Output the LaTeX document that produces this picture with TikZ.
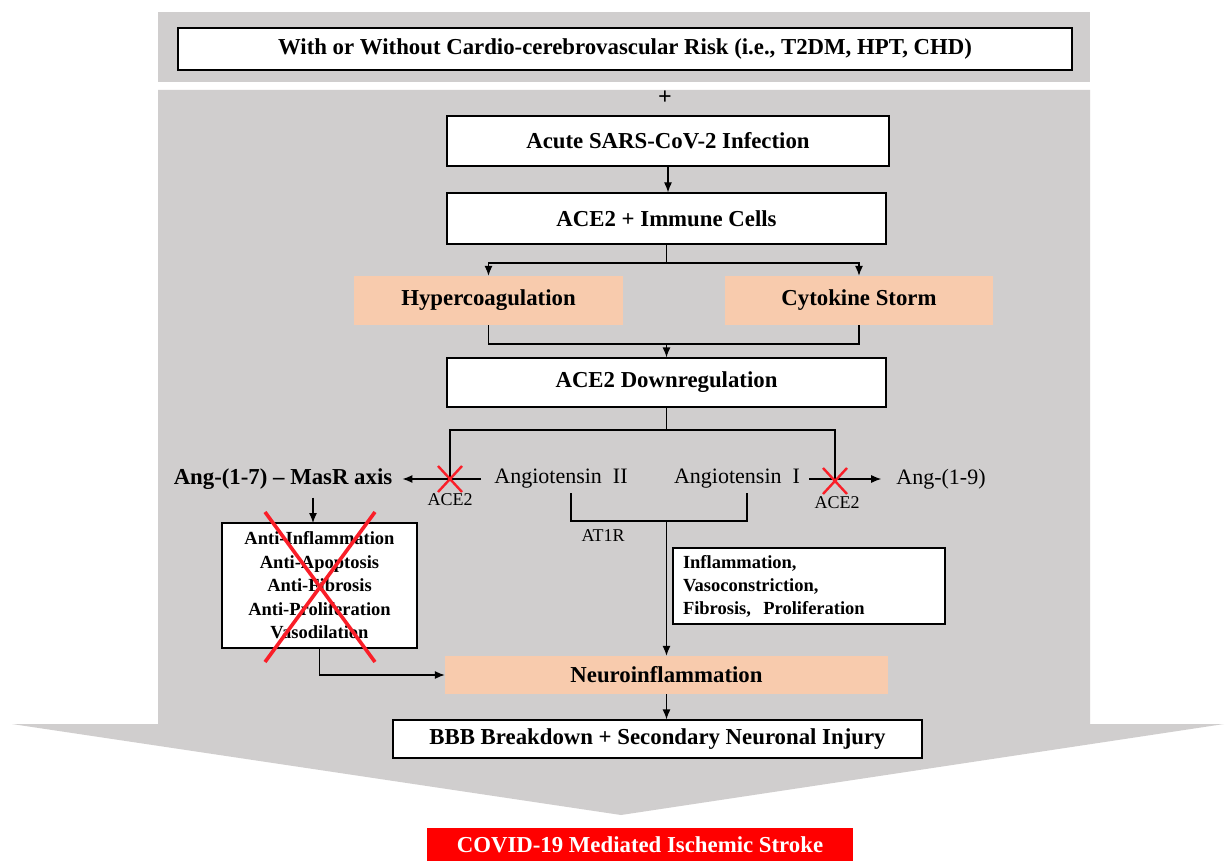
\documentclass[tikz,border=0pt]{standalone}
\usepackage{fontspec}
\setmainfont{Liberation Serif}
\usetikzlibrary{arrows.meta,calc}
\definecolor{bggray}{RGB}{208,206,206}
\definecolor{peach}{RGB}{248,203,173}
\definecolor{xred}{RGB}{250,30,40}
\begin{document}
\begin{tikzpicture}[x=1pt,y=-1pt,
  big/.style={font=\bfseries\fontsize{22.8}{26}\selectfont},
  wbox/.style={draw=black,fill=white,line width=1.2pt,inner sep=0pt,big},
  pbox/.style={fill=peach,inner sep=0pt,big},
  ln/.style={line width=1.2pt,draw=black},
  arr/.style={ln,-{Latex[length=10pt,width=8pt]}},
  plain/.style={font=\fontsize{22}{26}\selectfont,inner sep=2pt},
  small/.style={font=\fontsize{18}{22}\selectfont,inner sep=0pt},
  cross/.style={draw=xred,line width=2.4pt},
  bigcross/.style={draw=xred,line width=3.6pt}]
\useasboundingbox (0,0) rectangle (1226,861);
\fill[white] (0,0) rectangle (1226,861);
% background shapes
\fill[bggray] (158,12) rectangle (1090,82);
\fill[bggray] (158,90) -- (1090,90) -- (1090,724) -- (1224,724) -- (621,815) -- (12,724) -- (158,724) -- cycle;
% nodes
\node[wbox,minimum width=894pt,minimum height=42pt] (risk) at (625,49) {With or Without Cardio-cerebrovascular Risk (i.e., T2DM, HPT, CHD)};
\node[font=\bfseries\fontsize{24}{24}\selectfont,inner sep=0pt] (plus) at (665,98) {+};
\node[wbox,minimum width=442pt,minimum height=50pt] (acute) at (668,141) {Acute SARS-CoV-2 Infection};
\node[wbox,minimum width=439pt,minimum height=51pt] (immune) at (666.5,218.5) {ACE2 + Immune Cells};
\node[pbox,minimum width=269pt,minimum height=49pt] (hyper) at (488.5,300.5) {Hypercoagulation};
\node[pbox,minimum width=268pt,minimum height=49pt] (cyto) at (859,300.5) {Cytokine Storm};
\node[wbox,minimum width=439pt,minimum height=49pt] (down) at (666.5,382.5) {ACE2 Downregulation};
\node[big,inner sep=2pt] (ang17) at (283,479) {Ang-(1-7) -- MasR axis};
\node[plain] (ang2) at (561,479) {Angiotensin\ \ II};
\node[plain] (ang1) at (737,479) {Angiotensin\ \ I};
\node[plain] (ang19) at (941,479) {Ang-(1-9)};
\node[small] (lace2) at (450,500) {ACE2};
\node[small] (race2) at (837,503) {ACE2};
\node[small] (at1r) at (603,536) {AT1R};
\node[draw=black,fill=white,line width=1.2pt,minimum width=195pt,minimum height=125pt,inner sep=0pt,
  align=center,font=\bfseries\fontsize{18.5}{23.5}\selectfont] (anti) at (319.5,585.5)
  {Anti-Inflammation\\Anti-Apoptosis\\Anti-Fibrosis\\Anti-Proliferation\\Vasodilation};
\node[draw=black,fill=white,line width=1.2pt,minimum width=272pt,minimum height=76pt,
  text width=252pt,inner xsep=10pt,inner ysep=0pt,align=left,
  font=\bfseries\fontsize{18.5}{23}\selectfont] (infl) at (809,586)
  {Inflammation,\\Vasoconstriction,\\Fibrosis,\ \ Proliferation};
\node[pbox,minimum width=443pt,minimum height=38pt] (neuro) at (666.5,675) {Neuroinflammation};
\node[wbox,minimum width=529pt,minimum height=38pt] (bbb) at (657.5,739) {BBB Breakdown + Secondary Neuronal Injury};
\node[fill=red,text=white,inner sep=0pt,minimum width=426pt,minimum height=34pt,big] (stroke) at (640,845) {COVID-19 Mediated Ischemic Stroke};
% coordinates
\coordinate (j1) at (666.5,263);
\coordinate (j2) at (666.5,344);
\coordinate (j3) at (666.5,430);
\coordinate (xl) at (450,479);
\coordinate (xr) at (835,481);
\coordinate (b1) at (571,493);
\coordinate (b2) at (747,493);
\coordinate (bm) at (666.5,521);
% connectors
\draw[arr] (acute.south) -- (acute.south |- immune.north);
\draw[ln] (immune.south) -- (j1);
\draw[arr] (j1) -| (hyper.north);
\draw[arr] (j1) -| (cyto.north);
\draw[ln] (hyper.south) |- (j2);
\draw[ln] (cyto.south) |- (j2);
\draw[arr] (j2) -- (down.north);
\draw[ln] (down.south) -- (j3);
\draw[ln] (j3) -| (xl);
\draw[ln] (j3) -| (xr);
\draw[arr,shorten <=11pt,shorten >=8pt] (ang2.west) -- (ang17.east);
\draw[arr,shorten <=7pt,shorten >=13pt] (ang1.east) -- (ang19.west);
\draw[ln] (b1) |- (bm) -| (b2);
\draw[arr] (bm) -- (neuro.north);
\draw[arr,shorten <=6pt] (ang17.south -| 313,0) -- (313,523);
\draw[arr] (anti.south) |- (neuro.west);
\draw[arr] (neuro.south) -- (neuro.south |- bbb.north);
% red crosses
\draw[cross] ($(xl)+(-12,-13)$) -- ($(xl)+(12,13)$);
\draw[cross] ($(xl)+(12,-13)$) -- ($(xl)+(-12,13)$);
\draw[cross] ($(xr)+(-12,-13)$) -- ($(xr)+(12,13)$);
\draw[cross] ($(xr)+(12,-13)$) -- ($(xr)+(-12,13)$);
\draw[bigcross] (265,512) -- (375,662);
\draw[bigcross] (375,512) -- (265,662);
\end{tikzpicture}
\end{document}
